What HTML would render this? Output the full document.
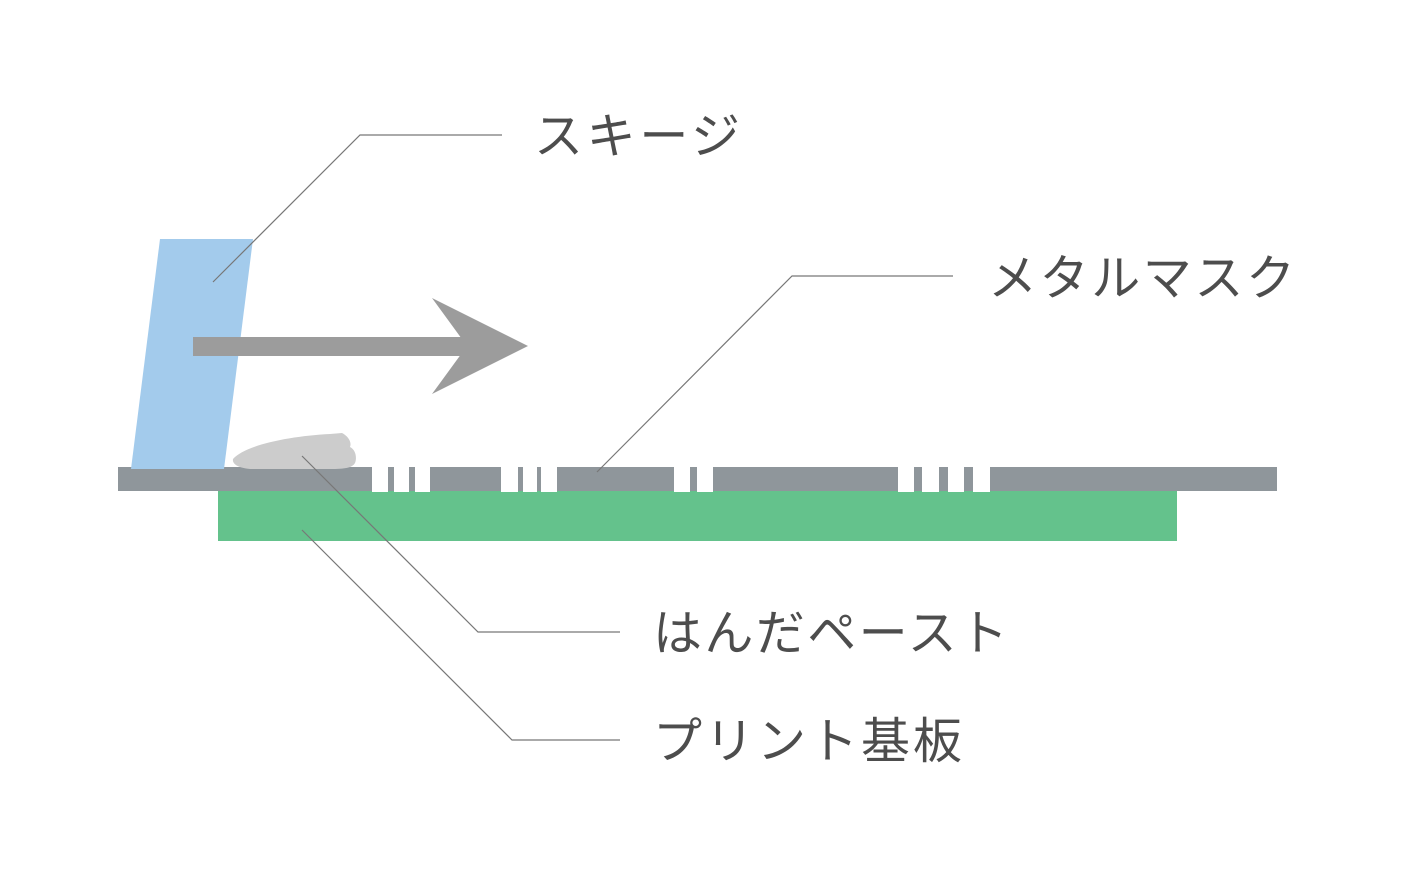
<!DOCTYPE html>
<html><head><meta charset="utf-8"><style>
body{margin:0;background:#fff;}
svg text{font-family:"Liberation Sans","Noto Sans CJK JP",sans-serif;font-size:49px;fill:#4d4d4d;}
</style></head><body>
<svg width="1417" height="886" viewBox="0 0 1417 886" xmlns="http://www.w3.org/2000/svg">
<rect x="218" y="489" width="959" height="52" fill="#64c28c"/>
<rect x="118" y="467" width="1159" height="24" fill="#8f969b"/>
<g fill="#fff">
<rect x="372" y="466" width="16" height="26"/><rect x="394" y="466" width="15" height="26"/><rect x="415" y="466" width="15" height="26"/>
<rect x="501" y="466" width="17" height="26"/><rect x="523" y="466" width="14" height="26"/><rect x="541" y="466" width="16" height="26"/>
<rect x="674" y="466" width="16" height="26"/><rect x="697" y="466" width="16" height="26"/>
<rect x="898" y="466" width="16" height="26"/><rect x="922" y="466" width="17" height="26"/><rect x="948" y="466" width="16" height="26"/><rect x="973" y="466" width="17" height="26"/>
</g>
<polygon points="160,239 253,239 224,469 131,469" fill="#a3cbec"/>
<path d="M233,459 C245,445 290,436 330,434 L342,433 C348,436 352,442 350,447 C356,450 357,458 355,463 C352,468 345,469 330,469 L250,469 C238,468 232,464 233,459 Z" fill="#cccccc"/>
<rect x="193" y="337" width="280" height="19" fill="#9c9c9c"/>
<polygon points="432,298 528,346 432,394 467,346" fill="#9c9c9c"/>
<g stroke="#777" stroke-width="1.2" fill="none">
<polyline points="213,282 360,135 502,135"/>
<polyline points="597,472 792,276 953,276"/>
<polyline points="302,456 478,632 620,632"/>
<polyline points="302,530 512,740 620,740"/>
</g>
<text x="534" y="153" textLength="206" lengthAdjust="spacing">スキージ</text>
<text x="988" y="295" textLength="307" lengthAdjust="spacing">メタルマスク</text>
<text x="653" y="650" textLength="355" lengthAdjust="spacing">はんだペースト</text>
<text x="653" y="758" textLength="309" lengthAdjust="spacing">プリント基板</text>
</svg>
</body></html>
